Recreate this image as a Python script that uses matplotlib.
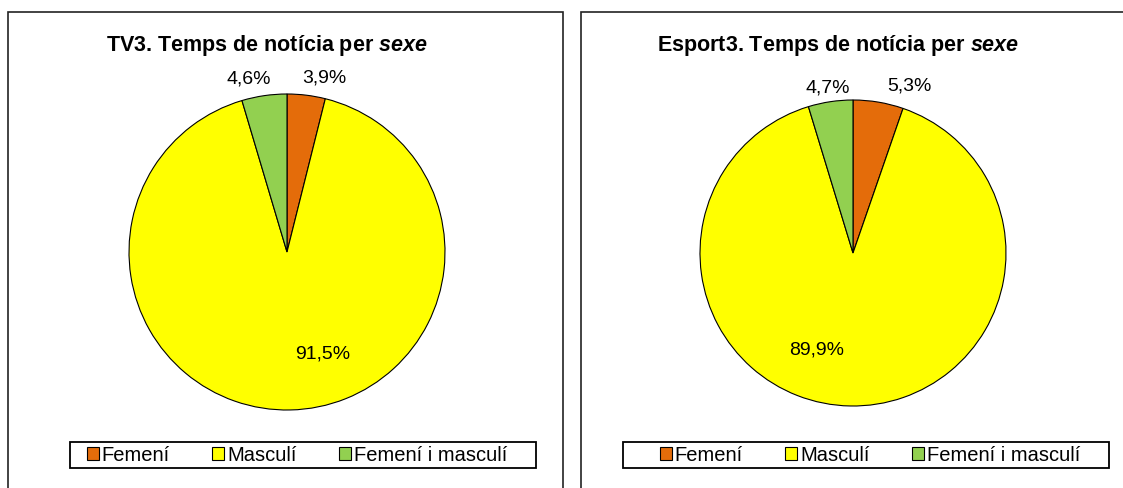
import numpy as np
import matplotlib
matplotlib.use("Agg")
import matplotlib.pyplot as plt
from matplotlib.patches import Rectangle

plt.rcParams['font.family'] = ['Liberation Sans', 'DejaVu Sans']
plt.rcParams['mathtext.fontset'] = 'custom'
plt.rcParams['mathtext.rm'] = 'Liberation Sans'
plt.rcParams['mathtext.bf'] = 'Liberation Sans:bold'
plt.rcParams['mathtext.it'] = 'Liberation Sans:italic'
plt.rcParams['mathtext.bfit'] = 'Liberation Sans:italic:bold'

categories = ['Femení', 'Masculí', 'Femení i masculí']
colors = ['#E46C0A', '#FFFF00', '#92D050']

tv3_values = [3.9, 91.5, 4.6]
esport3_values = [5.3, 89.9, 4.7]
tv3_labels = ['3,9%', '91,5%', '4,6%']
esport3_labels = ['5,3%', '89,9%', '4,7%']

W, H = 1123, 489
fig = plt.figure(figsize=(W / 100, H / 100), dpi=100)


def px_axes(cx, cy, r):
    return fig.add_axes([(cx - r) / W, (H - cy - r) / H, 2 * r / W, 2 * r / H])


def panel(x0, x1, title, title_x, values, labels, cx, cy, r, lab_pos, leg_box, leg_x):
    fig.patches.append(Rectangle((x0 / W, -0.1), (x1 - x0) / W, (H - 13) / H + 0.1,
                                 transform=fig.transFigure, fill=False,
                                 edgecolor='#222222', linewidth=1.2))
    fig.text(title_x / W, 1 - 45 / H, title, ha='center', va='center',
             fontsize=15.5, fontweight='bold')
    ax = px_axes(cx, cy, r)
    wedges, _ = ax.pie(values, colors=colors, startangle=90, counterclock=False,
                       radius=1, wedgeprops=dict(edgecolor='black', linewidth=0.8))
    ax.set_xlim(-1, 1)
    ax.set_ylim(-1, 1)
    ax.set_aspect('equal')
    ax.axis('off')
    for w, lab, (dang, dist) in zip(wedges, labels, lab_pos):
        ang = np.deg2rad((w.theta1 + w.theta2) / 2 + dang)
        ax.text(dist * np.cos(ang), dist * np.sin(ang), lab, ha='center',
                va='center', fontsize=14, clip_on=False)
    bx0, bx1 = leg_box
    fig.patches.append(Rectangle((bx0 / W, 1 - 469 / H), (bx1 - bx0) / W, 26 / H,
                                 transform=fig.transFigure, facecolor='white',
                                 edgecolor='black', linewidth=1.3))
    leg = fig.legend(wedges, categories, loc='center', ncol=3,
                     bbox_to_anchor=(leg_x / W, 1 - 456 / H), frameon=False,
                     fontsize=14.5, handlelength=0.6, handleheight=0.6,
                     handletextpad=0.15, columnspacing=2.1, borderpad=0.1)
    for h in leg.legend_handles:
        h.set_edgecolor('black')
        h.set_linewidth(0.8)


panel(8, 563, 'TV3. Temps de notícia per $\\mathbfit{sexe}$', 267, tv3_values, tv3_labels,
      287, 253, 158, [(-5, 1.13), (18, 0.68), (4, 1.13)], (70, 536), 297)
panel(581, 1140, 'Esport3. Temps de notícia per $\\mathbfit{sexe}$', 838, esport3_values,
      esport3_labels, 853, 254, 153, [(-9, 1.16), (-20, 0.67), (0, 1.10)], (623, 1109), 870)

fig.savefig('out.png', dpi=100)
